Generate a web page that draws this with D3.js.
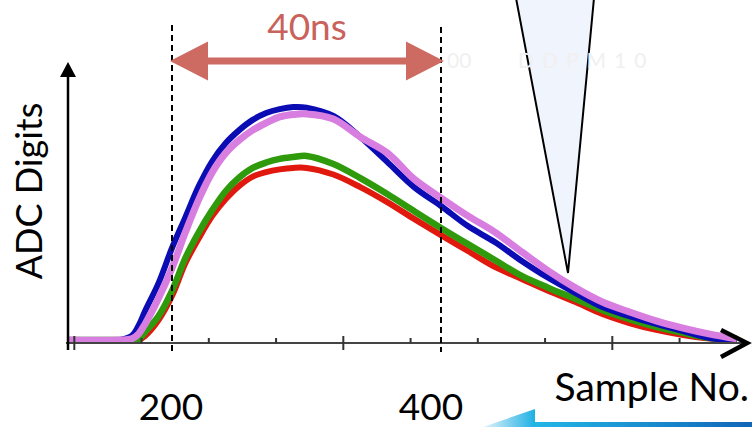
<!DOCTYPE html>
<html>
<head>
    <title>ADC pulse</title>
</head>
<style>
    body { margin: 0; background: #fff; }
    svg text { font-family: Lato, "Open Sans", sans-serif; }
</style>
<body>
<svg width="752" height="427"></svg>
<script src="https://d3js.org/d3.v7.min.js"></script>
<script>
var svg = d3.select("svg");

// sample numbers and ADC digits
var samples = [123, 160, 170, 175, 180, 190, 200, 210, 220, 230, 240, 250, 260, 270, 280, 290, 300,
               320, 340, 360, 380, 400, 420, 440, 460, 480, 500, 520, 540, 560, 580, 600, 620];
var blue   = [3, 3, 17, 50, 100, 193, 310, 413, 517, 600, 660, 703, 737, 760, 773, 780, 778,
              750, 680, 597, 513, 450, 383, 330, 267, 210, 160, 113, 83, 57, 33, 10, 3];
var violet = [3, 3, 7, 23, 57, 143, 243, 363, 473, 563, 627, 670, 703, 727, 747, 755, 757,
              740, 680, 627, 540, 477, 417, 363, 297, 233, 177, 130, 97, 67, 43, 23, 7];
var green  = [3, 3, 3, 5, 30, 83, 167, 277, 363, 437, 500, 545, 577, 595, 607, 613, 617,
              590, 543, 490, 433, 377, 323, 270, 217, 177, 140, 103, 73, 47, 27, 10, 3];
var red    = [3, 3, 3, 3, 17, 70, 150, 260, 343, 417, 473, 517, 548, 563, 572, 577, 577,
              555, 513, 463, 407, 353, 300, 247, 207, 167, 130, 90, 60, 37, 20, 8, 3];

var majorTicks = [127, 327, 527];
var minorTicks = [177, 227, 277, 377, 427, 477, 577];
var markers = [200, 400];          // dashed lines, also the labels under the axis
var windowLabel = "40ns";

var x = d3.scaleLinear().domain([200, 400]).range([172, 441]);
var y = d3.scaleLinear().domain([0, 930]).range([341, 62]);
var y0 = y(0) + 2;   // axis line

var defs = svg.append("defs");
var gb = defs.append("linearGradient").attr("id", "band");
gb.append("stop").attr("offset", "0%").attr("stop-color", "#22b6e6");
gb.append("stop").attr("offset", "100%").attr("stop-color", "#1166b8");
var gs = defs.append("linearGradient").attr("id", "swoosh");
gs.append("stop").attr("offset", "0%").attr("stop-color", "#e4f4fb");
gs.append("stop").attr("offset", "100%").attr("stop-color", "#1eb0e4");

// curves
var line = d3.line()
    .x(function(d, i) { return x(samples[i]); })
    .y(function(d) { return y(d); })
    .curve(d3.curveCatmullRom.alpha(0.5));

[[red, "#e0180e", 6], [green, "#2e9a0c", 6.5], [blue, "#0c0cb4", 6], [violet, "#d87ee0", 7]]
    .forEach(function(s) {
        svg.append("path")
            .attr("d", line(s[0]))
            .attr("fill", "none")
            .attr("stroke", s[1])
            .attr("stroke-width", s[2])
            .attr("stroke-linejoin", "round");
    });

// x axis
svg.append("line").attr("x1", 66).attr("x2", 746).attr("y1", y0).attr("y2", y0)
    .attr("stroke", "#444").attr("stroke-width", 2);

svg.append("g").attr("transform", "translate(0," + y0 + ")")
    .call(d3.axisTop(x).tickValues(majorTicks).tickSize(7).tickFormat(""));
svg.append("g").attr("transform", "translate(0," + y0 + ")")
    .call(d3.axisBottom(x).tickValues(majorTicks).tickSize(7).tickFormat(""));
svg.append("g").attr("transform", "translate(0," + y0 + ")")
    .call(d3.axisTop(x).tickValues(minorTicks).tickSize(5).tickFormat(""));
svg.selectAll(".domain").remove();
svg.selectAll(".tick line").attr("stroke", "#333").attr("stroke-width", 2);

// arrow heads
svg.append("path").attr("d", "M721,330L747,343L721,357")
    .attr("fill", "none").attr("stroke", "#000").attr("stroke-width", 4.5);
svg.append("line").attr("x1", 68).attr("x2", 68).attr("y1", 350).attr("y2", 74)
    .attr("stroke", "#000").attr("stroke-width", 2.5);
svg.append("path").attr("d", "M68,62L76,77L60,77Z").attr("fill", "#000");

// dashed markers
svg.selectAll(".marker").data(markers).enter().append("line")
    .attr("class", "marker")
    .attr("x1", function(d) { return x(d); }).attr("x2", function(d) { return x(d); })
    .attr("y1", function(d, i) { return 25 + 2 * i; }).attr("y2", 352)
    .attr("stroke", "#000").attr("stroke-width", 2).attr("stroke-dasharray", "6,4");

// 40ns double arrow
var ax1 = x(markers[0]) - 2, ax2 = x(markers[1]) + 3, ay = 61;
svg.append("path")
    .attr("d", "M" + ax1 + "," + ay + "L" + (ax1 + 38) + "," + (ay - 19.5) + "L" + (ax1 + 38) + "," + (ay - 3.5) +
               "L" + (ax2 - 38) + "," + (ay - 3.5) + "L" + (ax2 - 38) + "," + (ay - 19.5) + "L" + ax2 + "," + ay +
               "L" + (ax2 - 38) + "," + (ay + 19.5) + "L" + (ax2 - 38) + "," + (ay + 3.5) +
               "L" + (ax1 + 38) + "," + (ay + 3.5) + "L" + (ax1 + 38) + "," + (ay + 19.5) + "Z")
    .attr("fill", "#cd6a62");
svg.append("text").attr("x", 307).attr("y", 40).attr("text-anchor", "middle")
    .attr("font-size", 37).attr("fill", "#c9625b").text(windowLabel);

// pointer triangle
svg.append("path").attr("d", "M516,-2L594,-2L568,273Z")
    .attr("fill", "#f0f4fc").attr("stroke", "#000").attr("stroke-width", 2);

// faint text in the background
svg.append("text").attr("x", 447).attr("y", 68).attr("font-size", 21)
    .attr("fill", "#f0f0f0").text("00");
svg.append("text").attr("x", 518).attr("y", 68).attr("font-size", 21)
    .attr("fill", "#f0f0f0").attr("letter-spacing", 8).text("DDPM10");

// decoration at bottom right
svg.append("path").attr("d", "M483,427L535,409L535,427Z").attr("fill", "url(#swoosh)");
svg.append("rect").attr("x", 535).attr("y", 422).attr("width", 217).attr("height", 5).attr("fill", "url(#band)");

// labels
var labelShift = [-1, -10];
svg.selectAll(".lbl").data(markers).enter().append("text")
    .attr("class", "lbl")
    .attr("x", function(d, i) { return x(d) + labelShift[i]; }).attr("y", 420)
    .attr("text-anchor", "middle").attr("font-size", 37).attr("fill", "#000")
    .text(function(d) { return d; });
svg.append("text").attr("x", 749).attr("y", 401).attr("text-anchor", "end")
    .attr("font-size", 39).attr("fill", "#000").text("Sample No.");
svg.append("text").attr("transform", "translate(42,191) rotate(-90)")
    .attr("text-anchor", "middle").attr("font-size", 36).attr("fill", "#000").text("ADC Digits");
</script>
</body>
</html>
